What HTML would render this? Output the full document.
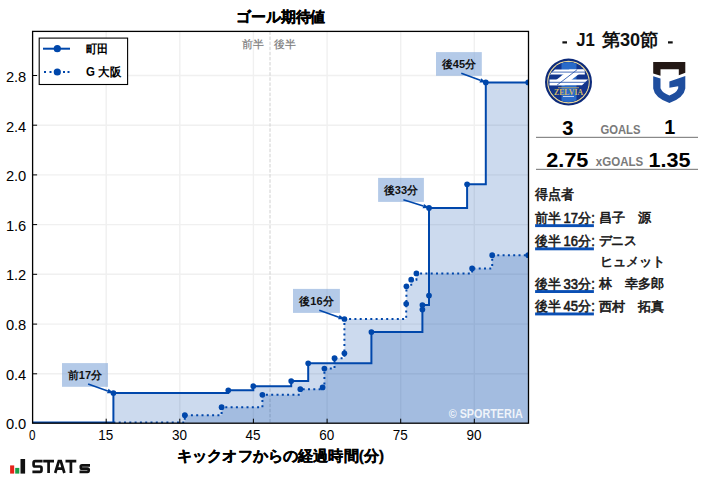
<!DOCTYPE html>
<html><head><meta charset="utf-8"><style>
html,body{margin:0;padding:0;background:#fff;width:707px;height:479px;overflow:hidden}
svg{display:block;font-family:"Liberation Sans",sans-serif}
</style></head><body>
<svg width="707" height="479" viewBox="0 0 707 479">
<defs><clipPath id="ax"><rect x="32.6" y="31.4" width="495.9" height="391.8"/></clipPath><clipPath id="zc"><circle cx="568.5" cy="82.1" r="20"/></clipPath></defs>
<g stroke="#f0f0f0" stroke-width="1.4"><line x1="106.2" y1="31.4" x2="106.2" y2="423.2" /><line x1="179.8" y1="31.4" x2="179.8" y2="423.2" /><line x1="253.4" y1="31.4" x2="253.4" y2="423.2" /><line x1="327.1" y1="31.4" x2="327.1" y2="423.2" /><line x1="400.7" y1="31.4" x2="400.7" y2="423.2" /><line x1="474.3" y1="31.4" x2="474.3" y2="423.2" /><line x1="32.6" y1="373.8" x2="528.5" y2="373.8" /><line x1="32.6" y1="324.1" x2="528.5" y2="324.1" /><line x1="32.6" y1="274.3" x2="528.5" y2="274.3" /><line x1="32.6" y1="224.6" x2="528.5" y2="224.6" /><line x1="32.6" y1="174.9" x2="528.5" y2="174.9" /><line x1="32.6" y1="125.2" x2="528.5" y2="125.2" /><line x1="32.6" y1="75.5" x2="528.5" y2="75.5" /></g>
<line x1="270" y1="31.4" x2="270" y2="423.2" stroke="#d0d0d0" stroke-width="1" stroke-dasharray="3.5 1.6"/>
<text x="253.1" y="48.1" font-size="11.2" fill="#7c7c7c" stroke="#7c7c7c" stroke-width="0.2" text-anchor="middle" textLength="21.8" lengthAdjust="spacingAndGlyphs">前半</text>
<text x="285.3" y="48.1" font-size="11.2" fill="#7c7c7c" stroke="#7c7c7c" stroke-width="0.2" text-anchor="middle" textLength="21.8" lengthAdjust="spacingAndGlyphs">後半</text>
<g clip-path="url(#ax)"><path d="M32.6,422.5 H113.4 V393.0 H228.3 V390.3 H253.3 V386.2 H291.2 V381.1 H308.2 V363.3 H371.4 V332.0 H422.4 V309.6 H422.4 V305.1 H429.0 V295.5 H429.0 V207.9 H467.1 V184.3 H485.8 V82.4 H528.2 V82.4 V423.2 H32.6 Z" fill="#0047ab" fill-opacity="0.2"/>
<path d="M32.6,422.5 H184.8 V415.2 H221.6 V407.2 H262.4 V394.8 H300.3 V389.2 H322.6 V387.4 H324.4 V368.6 H334.5 V358.2 H344.4 V353.3 H344.4 V319.0 H406.2 V303.8 H406.4 V286.3 H411.2 V279.7 H416.4 V273.4 H472.1 V268.4 H492.2 V255.2 H528.2 V255.2 V423.2 H32.6 Z" fill="#0047ab" fill-opacity="0.2"/>
<path d="M32.6,422.5 H113.4 V393.0 H228.3 V390.3 H253.3 V386.2 H291.2 V381.1 H308.2 V363.3 H371.4 V332.0 H422.4 V309.6 H422.4 V305.1 H429.0 V295.5 H429.0 V207.9 H467.1 V184.3 H485.8 V82.4 H528.2 V82.4" fill="none" stroke="#0047ab" stroke-width="2"/>
<path d="M113.4,422.5 H184.8 V415.2 H221.6 V407.2 H262.4 V394.8 H300.3 V389.2 H322.6 V387.4 H324.4 V368.6 H334.5 V358.2 H344.4 V353.3 H344.4 V319.0 H406.2 V303.8 H406.4 V286.3 H411.2 V279.7 H416.4 V273.4 H472.1 V268.4 H492.2 V255.2 H528.2 V255.2" fill="none" stroke="#0047ab" stroke-width="2" stroke-dasharray="2 3.3"/>
<g fill="#0047ab"><circle cx="113.4" cy="393.0" r="2.85"/><circle cx="228.3" cy="390.3" r="2.85"/><circle cx="253.3" cy="386.2" r="2.85"/><circle cx="291.2" cy="381.1" r="2.85"/><circle cx="308.2" cy="363.3" r="2.85"/><circle cx="371.4" cy="332.0" r="2.85"/><circle cx="422.4" cy="309.6" r="2.85"/><circle cx="422.4" cy="305.1" r="2.85"/><circle cx="429.0" cy="295.5" r="2.85"/><circle cx="429.0" cy="207.9" r="2.85"/><circle cx="467.1" cy="184.3" r="2.85"/><circle cx="485.8" cy="82.4" r="2.85"/><circle cx="528.2" cy="82.4" r="2.85"/><circle cx="184.8" cy="415.2" r="2.85"/><circle cx="221.6" cy="407.2" r="2.85"/><circle cx="262.4" cy="394.8" r="2.85"/><circle cx="300.3" cy="389.2" r="2.85"/><circle cx="322.6" cy="387.4" r="2.85"/><circle cx="324.4" cy="368.6" r="2.85"/><circle cx="334.5" cy="358.2" r="2.85"/><circle cx="344.4" cy="353.3" r="2.85"/><circle cx="344.4" cy="319.0" r="2.85"/><circle cx="406.2" cy="303.8" r="2.85"/><circle cx="406.4" cy="286.3" r="2.85"/><circle cx="411.2" cy="279.7" r="2.85"/><circle cx="416.4" cy="273.4" r="2.85"/><circle cx="472.1" cy="268.4" r="2.85"/><circle cx="492.2" cy="255.2" r="2.85"/><circle cx="528.2" cy="255.2" r="2.85"/></g></g>
<rect x="62" y="363.1" width="46.0" height="23.7" fill="#7ea3d8" fill-opacity="0.58"/><text x="85.0" y="378.8" font-size="11.2" font-weight="bold" text-anchor="middle" fill="#111" textLength="34" lengthAdjust="spacingAndGlyphs">前17分</text><line x1="88.1" y1="383.9" x2="107.75" y2="390.97" stroke="#0047ab" stroke-width="1.6"/><polygon points="113.87,393.17 106.98,393.13 108.53,388.81" fill="#0047ab"/>
<rect x="293" y="288.9" width="46.9" height="24.0" fill="#7ea3d8" fill-opacity="0.58"/><text x="316.4" y="304.7" font-size="11.2" font-weight="bold" text-anchor="middle" fill="#111" textLength="34" lengthAdjust="spacingAndGlyphs">後16分</text><line x1="319.3" y1="310.2" x2="338.85" y2="317.18" stroke="#0047ab" stroke-width="1.6"/><polygon points="344.97,319.37 338.08,319.35 339.62,315.02" fill="#0047ab"/>
<rect x="378.1" y="177.9" width="45.8" height="24.0" fill="#7ea3d8" fill-opacity="0.58"/><text x="401.0" y="193.7" font-size="11.2" font-weight="bold" text-anchor="middle" fill="#111" textLength="34" lengthAdjust="spacingAndGlyphs">後33分</text><line x1="403.4" y1="199.8" x2="423.28" y2="206.09" stroke="#0047ab" stroke-width="1.6"/><polygon points="429.48,208.05 422.59,208.28 423.97,203.90" fill="#0047ab"/>
<rect x="436" y="52.1" width="45.8" height="23.7" fill="#7ea3d8" fill-opacity="0.58"/><text x="458.9" y="67.8" font-size="11.2" font-weight="bold" text-anchor="middle" fill="#111" textLength="34" lengthAdjust="spacingAndGlyphs">後45分</text><line x1="461.3" y1="73.2" x2="480.28" y2="80.30" stroke="#0047ab" stroke-width="1.6"/><polygon points="486.37,82.58 479.47,82.45 481.09,78.14" fill="#0047ab"/>
<text x="522.7" y="418" font-size="12.5" font-weight="bold" fill="#fff" fill-opacity="0.85" text-anchor="end" textLength="74" lengthAdjust="spacingAndGlyphs">© SPORTERIA</text>
<rect x="32.6" y="31.4" width="495.9" height="391.8" fill="none" stroke="#000" stroke-width="1.3"/>
<g stroke="#000" stroke-width="1"><line x1="106.2" y1="423.2" x2="106.2" y2="418.7"/><line x1="179.8" y1="423.2" x2="179.8" y2="418.7"/><line x1="253.4" y1="423.2" x2="253.4" y2="418.7"/><line x1="327.1" y1="423.2" x2="327.1" y2="418.7"/><line x1="400.7" y1="423.2" x2="400.7" y2="418.7"/><line x1="474.3" y1="423.2" x2="474.3" y2="418.7"/><line x1="32.6" y1="373.8" x2="37.1" y2="373.8"/><line x1="32.6" y1="324.1" x2="37.1" y2="324.1"/><line x1="32.6" y1="274.3" x2="37.1" y2="274.3"/><line x1="32.6" y1="224.6" x2="37.1" y2="224.6"/><line x1="32.6" y1="174.9" x2="37.1" y2="174.9"/><line x1="32.6" y1="125.2" x2="37.1" y2="125.2"/><line x1="32.6" y1="75.5" x2="37.1" y2="75.5"/></g>
<g font-size="14.2" fill="#000"><text x="32.2" y="440.1" text-anchor="middle" textLength="6.5" lengthAdjust="spacingAndGlyphs">0</text><text x="105.8" y="440.1" text-anchor="middle" textLength="15.0" lengthAdjust="spacingAndGlyphs">15</text><text x="179.4" y="440.1" text-anchor="middle" textLength="15.0" lengthAdjust="spacingAndGlyphs">30</text><text x="253.0" y="440.1" text-anchor="middle" textLength="15.0" lengthAdjust="spacingAndGlyphs">45</text><text x="326.7" y="440.1" text-anchor="middle" textLength="15.0" lengthAdjust="spacingAndGlyphs">60</text><text x="400.3" y="440.1" text-anchor="middle" textLength="15.0" lengthAdjust="spacingAndGlyphs">75</text><text x="473.9" y="440.1" text-anchor="middle" textLength="15.0" lengthAdjust="spacingAndGlyphs">90</text><text x="26.3" y="429.1" text-anchor="end" textLength="20.4" lengthAdjust="spacingAndGlyphs">0.0</text><text x="26.3" y="379.5" text-anchor="end" textLength="20.4" lengthAdjust="spacingAndGlyphs">0.4</text><text x="26.3" y="330.0" text-anchor="end" textLength="20.4" lengthAdjust="spacingAndGlyphs">0.8</text><text x="26.3" y="280.4" text-anchor="end" textLength="20.4" lengthAdjust="spacingAndGlyphs">1.2</text><text x="26.3" y="230.8" text-anchor="end" textLength="20.4" lengthAdjust="spacingAndGlyphs">1.6</text><text x="26.3" y="181.2" text-anchor="end" textLength="20.4" lengthAdjust="spacingAndGlyphs">2.0</text><text x="26.3" y="131.7" text-anchor="end" textLength="20.4" lengthAdjust="spacingAndGlyphs">2.4</text><text x="26.3" y="82.1" text-anchor="end" textLength="20.4" lengthAdjust="spacingAndGlyphs">2.8</text></g>
<text x="280.6" y="22" font-size="15" font-weight="bold" stroke="#000" stroke-width="0.35" text-anchor="middle" textLength="89.5" lengthAdjust="spacingAndGlyphs">ゴール期待値</text>
<text x="280.5" y="461" font-size="15" font-weight="bold" stroke="#000" stroke-width="0.3" text-anchor="middle" textLength="207" lengthAdjust="spacingAndGlyphs">キックオフからの経過時間(分)</text>
<rect x="39.2" y="38.1" width="88.4" height="46.4" fill="#fff" stroke="#000" stroke-width="1.1"/>
<line x1="43" y1="48.7" x2="70" y2="48.7" stroke="#0047ab" stroke-width="2"/><circle cx="57.3" cy="48.7" r="3.6" fill="#0047ab"/>
<path d="M44,72 h2 M49.5,72 h2 M63,72 h2 M67.5,72 h2" stroke="#0047ab" stroke-width="2"/><circle cx="57.3" cy="72" r="3.6" fill="#0047ab"/>
<text x="86" y="52.8" font-size="12" font-weight="bold" textLength="22.3" lengthAdjust="spacingAndGlyphs">町田</text>
<text x="86.1" y="76.1" font-size="12" font-weight="bold" textLength="35" lengthAdjust="spacingAndGlyphs">G 大阪</text>
<g font-weight="bold" fill="#111">
<rect x="562.4" y="41.3" width="4.6" height="2.2"/><rect x="668" y="41.3" width="4.7" height="2.2"/>
<text x="576.2" y="46.1" font-size="17.8" textLength="18.6" lengthAdjust="spacingAndGlyphs">J1</text>
<text x="601.5" y="46.1" font-size="17.8" textLength="57" lengthAdjust="spacingAndGlyphs">第30節</text>
</g>
<g font-weight="bold" fill="#000">
<text x="562.2" y="134.5" font-size="20.3" textLength="11.2" lengthAdjust="spacingAndGlyphs">3</text>
<text x="664.2" y="134.2" font-size="20.3" textLength="11" lengthAdjust="spacingAndGlyphs">1</text>
<text x="546.2" y="166.8" font-size="20.8" textLength="42.2" lengthAdjust="spacingAndGlyphs">2.75</text>
<text x="648.4" y="166.8" font-size="20.8" textLength="42" lengthAdjust="spacingAndGlyphs">1.35</text>
</g>
<text x="600.4" y="133.9" font-size="12.4" font-weight="bold" fill="#7a7a7a" textLength="40" lengthAdjust="spacingAndGlyphs">GOALS</text>
<text x="595.8" y="166" font-size="12.4" font-weight="bold" fill="#7a7a7a" textLength="47.4" lengthAdjust="spacingAndGlyphs">xGOALS</text>
<rect x="536" y="136.8" width="162" height="1.1" fill="#7d7d7d"/>
<rect x="536" y="168.8" width="162" height="1.1" fill="#7d7d7d"/>
<g fill="#1a1a1a" font-size="14" stroke="#1a1a1a" stroke-width="0.6">
<text x="534.8" y="198.6" textLength="39" lengthAdjust="spacingAndGlyphs">得点者</text>
<text x="535" y="222.8" textLength="25.8" lengthAdjust="spacingAndGlyphs">前半</text>
<text x="563.6" y="222.8" textLength="31.2" lengthAdjust="spacingAndGlyphs">17分:</text>
<rect x="535.1" y="224.2" width="58.8" height="2.9" fill="#0a4fb4" stroke="none"/>
<text x="598.6" y="222.2" font-size="13.2" textLength="52.5" lengthAdjust="spacingAndGlyphs">昌子　源</text>
<text x="535" y="246.0" textLength="25.8" lengthAdjust="spacingAndGlyphs">後半</text>
<text x="563.6" y="246.0" textLength="31.2" lengthAdjust="spacingAndGlyphs">16分:</text>
<rect x="535.1" y="247.4" width="58.8" height="2.9" fill="#0a4fb4" stroke="none"/>
<text x="598.6" y="245.4" font-size="13.2" textLength="38.5" lengthAdjust="spacingAndGlyphs">デニス</text>
<text x="535" y="288.7" textLength="25.8" lengthAdjust="spacingAndGlyphs">後半</text>
<text x="563.6" y="288.7" textLength="31.2" lengthAdjust="spacingAndGlyphs">33分:</text>
<rect x="535.1" y="290.1" width="58.8" height="2.9" fill="#0a4fb4" stroke="none"/>
<text x="598.6" y="288.1" font-size="13.2" textLength="65.5" lengthAdjust="spacingAndGlyphs">林　幸多郎</text>
<text x="535" y="311.1" textLength="25.8" lengthAdjust="spacingAndGlyphs">後半</text>
<text x="563.6" y="311.1" textLength="31.2" lengthAdjust="spacingAndGlyphs">45分:</text>
<rect x="535.1" y="312.5" width="58.8" height="2.9" fill="#0a4fb4" stroke="none"/>
<text x="598.6" y="310.5" font-size="13.2" textLength="65.5" lengthAdjust="spacingAndGlyphs">西村　拓真</text>
<text x="599.5" y="265.8" font-size="13.2" textLength="65.5" lengthAdjust="spacingAndGlyphs">ヒュメット</text>
</g>
<g>
<circle cx="568.5" cy="82.1" r="23.5" fill="#0c2a7a"/>
<circle cx="568.5" cy="82.1" r="20.7" fill="none" stroke="#e6d59a" stroke-width="1.2"/>
<g clip-path="url(#zc)">
<rect x="540" y="55" width="60" height="55" fill="#12358c"/>
<rect x="561.5" y="55" width="15" height="55" fill="#2a6bc8"/>
<polygon points="555,69.6 584.8,69.6 584.8,74.6 549.5,74.6" fill="#fff"/>
<polygon points="549.5,79.4 588,79.4 582,85.2 549.5,85.2" fill="#fff"/>
<polygon points="569.5,69.6 584.8,69.6 564.5,85.2 549.5,85.2" fill="#fff"/>
<line x1="552" y1="72.1" x2="585" y2="72.1" stroke="#1a4aa8" stroke-width="0.8"/>
<line x1="549" y1="82.3" x2="586" y2="82.3" stroke="#1a4aa8" stroke-width="0.8"/>
<line x1="577.2" y1="69.6" x2="557" y2="85.2" stroke="#1a4aa8" stroke-width="0.8"/>
</g>
<text x="568.5" y="94.6" font-size="7.6" font-weight="bold" fill="#d2b866" text-anchor="middle" font-family="Liberation Serif" textLength="29" lengthAdjust="spacingAndGlyphs">ZELVIA</text>
<rect x="558" y="87.3" width="21" height="0.9" fill="#b9a66a"/>
<rect x="563" y="96" width="11" height="1" fill="#c7d3ee"/>
</g>
<g>
<path d="M653.2,62 H685.3 V72.8 L678.8,75.3 V69.3 H660.5 V75.8 L653.2,73.5 Z" fill="#231815"/>
<path d="M653.2,76.2 L660.5,78.6 V88.2 Q662.5,93 669.4,95.4 Q676.3,93 678.2,88.2 V86.2 L669.4,87.7 V81.5 L685.3,75.9 V88.4 Q684,97.5 669.4,103 Q654.5,97.5 653.2,88.4 Z" fill="#1f4e9e"/>
</g>
<rect x="10.1" y="465.4" width="4.1" height="8.2" fill="#e5231b"/>
<rect x="15.2" y="467.9" width="4.1" height="5.7" fill="#1a9e48"/>
<rect x="20.5" y="459" width="4.6" height="14.6" fill="#111"/>
<g fill="none" stroke="#111" stroke-width="2.7" stroke-linejoin="miter">
<path d="M42.6,461.2 H35.2 Q33.6,461.2 33.6,462.8 V464.9 Q33.6,466.5 35.2,466.5 H40 Q41.5,466.5 41.5,468 V470.2 Q41.5,471.8 40,471.8 H32.4"/>
<path d="M43.2,461.2 H54 M48.6,461.2 V473"/>
<path d="M55.2,473 L58.8,461.2 H60.8 L64.4,473 M57,468.6 H62.6"/>
<path d="M65.5,461.2 H76.3 M70.9,461.2 V473"/>
<path d="M90,465.3 H82 Q80.8,465.3 80.8,466.5 V467.4 Q80.8,468.6 82,468.6 H87.5 Q88.7,468.6 88.7,469.8 V470.6 Q88.7,471.8 87.5,471.8 H79.5"/>
</g>
</svg>
</body></html>
